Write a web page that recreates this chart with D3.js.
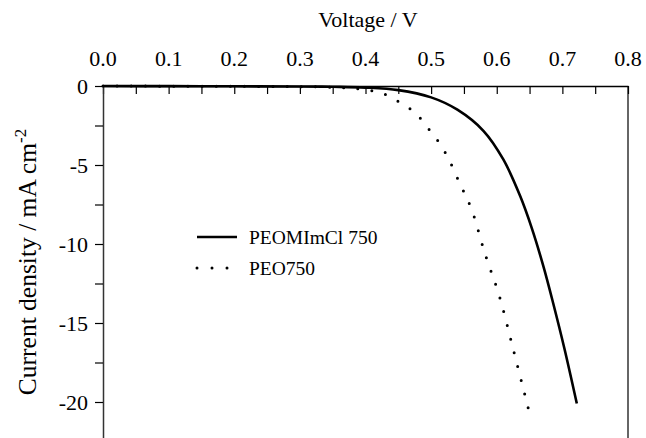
<!DOCTYPE html>
<html>
<head>
<meta charset="utf-8">
<script src="https://cdn.jsdelivr.net/npm/d3@7"></script>
<style>
  body { margin: 0; background: #fff; }
  text { font-family: "Liberation Serif", "Times New Roman", serif; fill: #000; }
</style>
</head>
<body>
<div id="chart"></div>
<script>
// data
const xTicks = [0.0, 0.1, 0.2, 0.3, 0.4, 0.5, 0.6, 0.7, 0.8]
const yTicks = [0, -5, -10, -15, -20]

const solidV = [0, 0.1, 0.2, 0.3, 0.35, 0.4, 0.45, 0.5, 0.54, 0.58, 0.61, 0.636, 0.653, 0.671, 0.686, 0.703, 0.722]
const solidJ = [0, -0.01, -0.02, -0.03, -0.05, -0.1, -0.26, -0.72, -1.5, -2.85, -4.65, -7.0, -8.95, -11.4, -13.75, -16.6, -20.1]

const dotV = [0, 0.1, 0.2, 0.3, 0.35, 0.38, 0.41, 0.432, 0.453, 0.476, 0.494, 0.509, 0.524, 0.543, 0.562, 0.582, 0.604, 0.626, 0.648]
const dotJ = [0, -0.01, -0.02, -0.04, -0.08, -0.15, -0.3, -0.57, -1.05, -1.7, -2.6, -3.4, -4.4, -6.1, -7.85, -10.6, -13.3, -16.8, -20.4]

const seriesNames = ['PEOMImCl 750', 'PEO750']

const width = 646,
  height = 438
const pLeft = 103, pRight = 628, pTop = 86, pBottom = 441.5

let svg = d3.select('#chart')
  .append('svg')
  .attr('width', width)
  .attr('height', height)

let x = d3.scaleLinear().domain([0, 0.8]).range([pLeft, pRight])
let y = d3.scaleLinear().domain([0, -22.5]).range([pTop, pBottom])

// frame (right side)
svg.append('line')
  .attr('x1', pRight).attr('x2', pRight)
  .attr('y1', pTop).attr('y2', pBottom)
  .attr('stroke', '#333').attr('stroke-width', 1.5)

// top axis, ticks point inwards
let topAxis = svg.append('g')
  .attr('transform', `translate(0,${pTop})`)
  .call(d3.axisTop(x).tickValues(d3.range(0, 0.801, 0.05)).tickSizeInner(-8).tickSizeOuter(0).tickFormat(''))
topAxis.select('.domain').attr('stroke', '#000').attr('stroke-width', 1.5)
topAxis.selectAll('.tick line').attr('stroke', '#000').attr('stroke-width', 1.2)

svg.append('g')
  .selectAll('text')
  .data(xTicks)
  .enter()
  .append('text')
  .attr('x', d => x(d))
  .attr('y', 66)
  .attr('text-anchor', 'middle')
  .style('font-size', '22px')
  .text(d => d.toFixed(1))

svg.append('text')
  .attr('x', 368)
  .attr('y', 27)
  .attr('text-anchor', 'middle')
  .style('font-size', '22px')
  .text('Voltage / V')

// left axis, ticks point outwards
let leftAxis = svg.append('g')
  .attr('transform', `translate(${pLeft},0)`)
  .call(d3.axisLeft(y).tickValues(d3.range(0, -22.6, -2.5)).tickSize(8).tickSizeOuter(0).tickFormat(''))
leftAxis.select('.domain').attr('stroke', '#333').attr('stroke-width', 1.5)
leftAxis.selectAll('.tick line').attr('stroke', '#000').attr('stroke-width', 1.2)

svg.append('g')
  .selectAll('text')
  .data(yTicks)
  .enter()
  .append('text')
  .attr('x', pLeft - 15)
  .attr('y', d => y(d) + 7.5)
  .attr('text-anchor', 'end')
  .style('font-size', '22px')
  .text(d => d === 0 ? '0' : '-' + Math.abs(d))

let yLab = svg.append('text')
  .attr('transform', `translate(36,262) rotate(-90)`)
  .attr('text-anchor', 'middle')
  .style('font-size', '25.5px')
yLab.append('tspan').text('Current density / mA cm')
yLab.append('tspan').attr('dy', -10).style('font-size', '17px').text('-2')

// curves
let line = d3.line()
  .x(d => x(d[0]))
  .y(d => y(d[1]))
  .curve(d3.curveCatmullRom.alpha(0.5))

svg.append('path')
  .datum(d3.zip(solidV, solidJ))
  .attr('d', line)
  .attr('fill', 'none')
  .attr('stroke', '#000')
  .attr('stroke-width', 2.6)

let dotted = svg.append('path')
  .datum(d3.zip(dotV, dotJ))
  .attr('d', line)
  .attr('fill', 'none')
  .attr('stroke', '#000')
  .attr('stroke-width', 3)
  .attr('stroke-linecap', 'round')

// spread the dots so one lands on the end of the curve
let len = dotted.node().getTotalLength()
let gap = len / Math.round(len / 14.3) * 0.999
dotted.attr('stroke-dasharray', `0,${gap}`)

// legend
let legend = svg.append('g')
seriesNames.forEach((name, i) => {
  let ly = 237 + i * 31
  legend.append('line')
    .attr('x1', 197).attr('x2', i === 0 ? 237 : 230)
    .attr('y1', ly).attr('y2', ly)
    .attr('stroke', '#000')
    .attr('stroke-width', i === 0 ? 2.6 : 3)
    .attr('stroke-linecap', i === 0 ? 'butt' : 'round')
    .attr('stroke-dasharray', i === 0 ? null : '0,15')
  legend.append('text')
    .attr('x', 249)
    .attr('y', ly + 7)
    .style('font-size', '19.5px')
    .text(name)
})
</script>
</body>
</html>
